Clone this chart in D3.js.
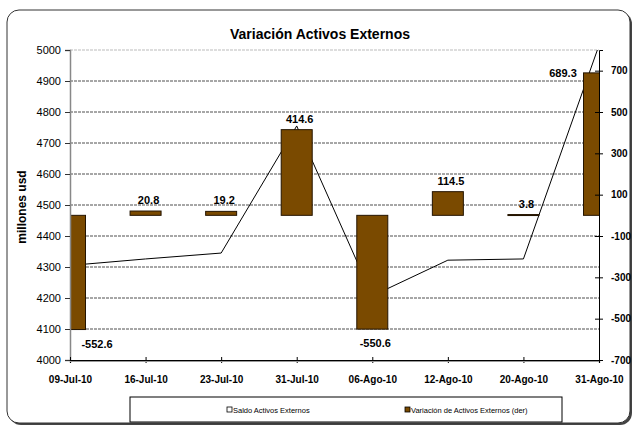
<!DOCTYPE html>
<html>
<head>
<meta charset="utf-8">
<script src="https://cdn.jsdelivr.net/npm/d3@7"></script>
<style>
  body { margin: 0; background: #fff; }
  svg { font-family: Arial, "Liberation Sans", sans-serif; }
</style>
</head>
<body>
<svg width="636" height="430"></svg>
<script>
// chart data
const fechas = ["09-Jul-10", "16-Jul-10", "23-Jul-10", "31-Jul-10", "06-Ago-10", "12-Ago-10", "20-Ago-10", "31-Ago-10"];
const saldo = [4305, 4326, 4345, 4755, 4207, 4322, 4326, 5015];
const variacion = [-552.6, 20.8, 19.2, 414.6, -550.6, 114.5, 3.8, 689.3];
const ticksIzq = [4000, 4100, 4200, 4300, 4400, 4500, 4600, 4700, 4800, 4900, 5000];
const ticksDer = [-700, -500, -300, -100, 100, 300, 500, 700];

const pLeft = 70, pRight = 599, pTop = 50, pBottom = 360;
const barColor = "#7a4a00";

const svg = d3.select("svg");

// frame with a little shadow
svg.append("rect").attr("x", 9).attr("y", 12).attr("width", 623).attr("height", 413)
  .attr("rx", 12).attr("fill", "#444");
svg.append("rect").attr("x", 7).attr("y", 10).attr("width", 623).attr("height", 413)
  .attr("rx", 12).attr("fill", "#fff").attr("stroke", "#333").attr("stroke-width", 1);

const x = d3.scalePoint().domain(fechas).range([pLeft, pRight]);
const yL = d3.scaleLinear().domain([4000, 5000]).range([pBottom, pTop]);
const yR = d3.scaleLinear().domain([-700, 800]).range([pBottom, pTop]);

svg.append("clipPath").attr("id", "plot")
  .append("rect").attr("x", pLeft).attr("y", pTop).attr("width", pRight - pLeft).attr("height", pBottom - pTop);

// grid
svg.append("g").selectAll("line")
  .data(ticksIzq.filter(d => d > 4000))
  .join("line")
  .attr("x1", pLeft).attr("x2", pRight)
  .attr("y1", d => yL(d)).attr("y2", d => yL(d))
  .attr("stroke", d => d === 5000 ? "#aaa" : "#222")
  .attr("stroke-width", 0.8)
  .attr("stroke-dasharray", "3,1");

const plot = svg.append("g").attr("clip-path", "url(#plot)");

// saldo line (behind the bars)
plot.append("path")
  .datum(saldo)
  .attr("fill", "none")
  .attr("stroke", "#000")
  .attr("stroke-width", 1)
  .attr("d", d3.line().x((d, i) => x(fechas[i])).y(d => yL(d)));

// variation bars
const bw = 31;
plot.selectAll("rect.bar")
  .data(variacion)
  .join("rect")
  .attr("class", "bar")
  .attr("x", (d, i) => x(fechas[i]) - bw / 2)
  .attr("width", bw)
  .attr("y", d => yR(Math.max(0, d)))
  .attr("height", d => Math.max(1, Math.abs(yR(d) - yR(0))))
  .attr("fill", barColor)
  .attr("stroke", "#241400")
  .attr("stroke-width", 1);

// value labels
svg.append("g").selectAll("text")
  .data(variacion)
  .join("text")
  .attr("x", (d, i) => {
    const cx = x(fechas[i]);
    if (i === 0) return cx + 27;
    if (i === fechas.length - 1) return cx - 36;
    return cx + 3;
  })
  .attr("y", (d, i) => {
    if (i === fechas.length - 1) return yR(d) + 4;
    return d >= 0 ? yR(d) - 7 : yR(d) + 18;
  })
  .attr("text-anchor", "middle")
  .attr("font-size", 11)
  .attr("font-weight", "bold")
  .text(d => d.toFixed(1));

// left axis
const axL = svg.append("g").attr("transform", `translate(${pLeft},0)`)
  .call(d3.axisLeft(yL).tickValues(ticksIzq).tickFormat(d => String(d)).tickSize(5).tickPadding(4));
axL.attr("font-family", null).attr("font-size", null);
axL.select(".domain").attr("stroke", "#888").attr("stroke-width", 1.5);
axL.selectAll(".tick line").attr("stroke", "#333");
axL.selectAll("text").attr("font-size", 11).attr("fill", "#000");

// right axis
const axR = svg.append("g").attr("transform", `translate(${pRight},0)`)
  .call(d3.axisRight(yR).tickValues(ticksDer).tickFormat(d => String(d)).tickSize(4).tickPadding(8));
axR.attr("font-family", null).attr("font-size", null);
axR.select(".domain").attr("stroke", "#000");
axR.selectAll(".tick line").attr("x1", -4).attr("stroke", "#000");
axR.selectAll("text").attr("font-size", 10).attr("font-weight", "bold");

// bottom axis
const axB = svg.append("g").attr("transform", `translate(0,${pBottom})`)
  .call(d3.axisBottom(x).tickSize(3).tickPadding(13));
axB.attr("font-family", null).attr("font-size", null);
axB.select(".domain").attr("stroke", "#000").attr("stroke-width", 1.2);
axB.selectAll(".tick line").attr("y1", -3).attr("stroke", "#000");
axB.selectAll("text").attr("font-size", 10).attr("font-weight", "bold");
svg.append("line").attr("x1", pLeft).attr("x2", pRight).attr("y1", pBottom + 1.5).attr("y2", pBottom + 1.5)
  .attr("stroke", "#999").attr("stroke-width", 1);

// titles
svg.append("text").attr("x", 320).attr("y", 39).attr("text-anchor", "middle")
  .attr("font-size", 14).attr("font-weight", "bold").text("Variación Activos Externos");
svg.append("text").attr("transform", "translate(26,207) rotate(-90)").attr("text-anchor", "middle")
  .attr("font-size", 12).attr("font-weight", "bold").text("millones usd");

// legend
const lg = svg.append("g");
lg.append("rect").attr("x", 130).attr("y", 397).attr("width", 432).attr("height", 25)
  .attr("fill", "#fff").attr("stroke", "#000").attr("stroke-width", 1);
const leyenda = [
  { name: "Saldo Activos Externos", fill: "#fff", x: 227 },
  { name: "Variación de Activos Externos (der)", fill: barColor, x: 405 }
];
const li = lg.selectAll("g.item").data(leyenda).join("g").attr("class", "item")
  .attr("transform", d => `translate(${d.x},410)`);
li.append("rect").attr("x", 0).attr("y", -3).attr("width", 5).attr("height", 5)
  .attr("fill", d => d.fill).attr("stroke", "#000").attr("stroke-width", 0.8);
li.append("text").attr("x", 6).attr("y", 3).attr("font-size", 7.5).text(d => d.name);
</script>
</body>
</html>
